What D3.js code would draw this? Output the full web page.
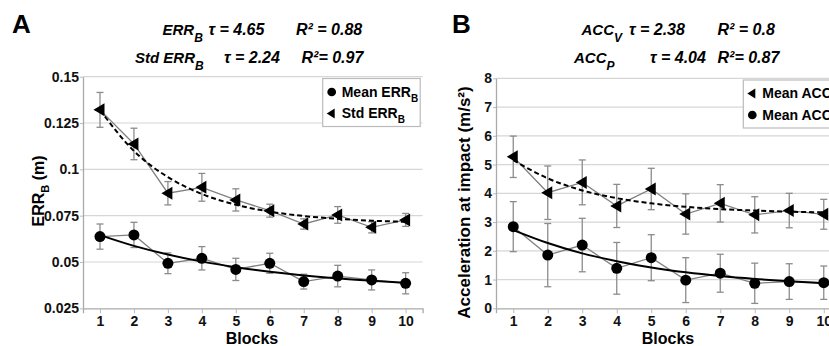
<!DOCTYPE html>
<html>
<head>
<meta charset="utf-8">
<script src="https://cdn.jsdelivr.net/npm/d3@7"></script>
<style>
  body { margin: 0; background: #fff; }
  svg text { font-family: "Liberation Sans", Arial, sans-serif; font-weight: bold; }
</style>
</head>
<body>
<div id="chart"></div>
<script>
const blocks = [1, 2, 3, 4, 5, 6, 7, 8, 9, 10];

// panel A (ERR_B, m)
const errMean    = [0.0637, 0.0646, 0.0493, 0.0520, 0.0460, 0.0493, 0.0394, 0.0424, 0.0403, 0.0385];
const errMeanSd  = [0.0068, 0.0068, 0.0056, 0.0063, 0.0060, 0.0054, 0.0040, 0.0058, 0.0054, 0.0057];
const errMeanFit = [0.0645, 0.0587, 0.0540, 0.0502, 0.0472, 0.0447, 0.0427, 0.0411, 0.0399, 0.0388];
const errStd     = [0.1321, 0.1137, 0.0871, 0.0903, 0.0835, 0.0777, 0.0705, 0.0754, 0.0687, 0.0727];
const errStdSd   = [0.0094, 0.0085, 0.0063, 0.0075, 0.0060, 0.0035, 0.0028, 0.0045, 0.0030, 0.0035];
const errStdFit  = [0.1320, 0.1099, 0.0958, 0.0867, 0.0809, 0.0772, 0.0748, 0.0733, 0.0723, 0.0717];
const yTicksA = [0.025, 0.05, 0.075, 0.1, 0.125, 0.15];
const yTickLabelsA = ['0.025', '0.05', '0.075', '0.1', '0.125', '0.15'];

// panel B (acceleration at impact, m/s²)
const accV    = [5.27, 4.02, 4.38, 3.56, 4.15, 3.28, 3.65, 3.25, 3.40, 3.27];
const accVSd  = [0.72, 0.93, 0.78, 0.75, 0.72, 0.70, 0.65, 0.63, 0.60, 0.52];
const accVFit = [5.15, 4.52, 4.10, 3.83, 3.65, 3.53, 3.45, 3.40, 3.36, 3.34];
const accP    = [2.84, 1.85, 2.20, 1.39, 1.76, 0.98, 1.22, 0.87, 0.93, 0.89];
const accPSd  = [0.87, 1.10, 0.93, 0.90, 0.80, 0.78, 0.66, 0.70, 0.62, 0.58];
const accPFit = [2.72, 2.27, 1.91, 1.64, 1.42, 1.25, 1.12, 1.02, 0.94, 0.87];
const yTicksB = [0, 1, 2, 3, 4, 5, 6, 7, 8];

const width = 829, height = 346;
const svg = d3.select('#chart').append('svg')
  .attr('width', width)
  .attr('height', height);

function drawPanel(p) {
  const x = d3.scaleLinear().domain([0.5, 10.5]).range([p.left, p.right]);
  const y = d3.scaleLinear().domain(p.yDomain).range([308.3, p.top]);
  const g = svg.append('g');

  // grid
  g.selectAll('line.grid')
    .data(p.yTicks.slice(1))
    .enter().append('line')
    .attr('x1', p.left).attr('x2', p.right)
    .attr('y1', d => y(d)).attr('y2', d => y(d))
    .attr('stroke', '#d6d6d6').attr('stroke-width', 1.2);

  // axes
  const xAxis = g.append('g')
    .attr('transform', `translate(0,${y(p.yDomain[0])})`)
    .call(d3.axisBottom(x).tickValues(blocks).tickSize(5).tickPadding(3));
  xAxis.select('.domain').attr('stroke', '#aaa').attr('stroke-width', 1.3);
  xAxis.selectAll('.tick line').attr('stroke', '#bbb');
  xAxis.selectAll('text').style('font-size', '14px').attr('fill', '#111');

  const yAxis = g.append('g')
    .attr('transform', `translate(${p.left},0)`)
    .call(d3.axisLeft(y).tickValues(p.yTicks).tickFormat((d, i) => p.yTickLabels[i]).tickSize(3).tickPadding(1).tickSizeOuter(0));
  yAxis.select('.domain').attr('stroke', '#aaa').attr('stroke-width', 1.3);
  yAxis.selectAll('.tick line').attr('stroke', '#bbb');
  yAxis.selectAll('text').style('font-size', '14px').attr('fill', '#111');

  g.append('text')
    .attr('x', p.blocksX)
    .attr('y', 343.5)
    .attr('text-anchor', 'middle')
    .style('font-size', '16px')
    .text('Blocks');

  const yl = g.append('text')
    .attr('transform', `translate(${p.yLabelX},${p.yLabelY}) rotate(-90)`)
    .attr('text-anchor', 'middle')
    .style('font-size', p.yLabelSize);
  p.yLabel(yl);

  p.series.forEach(s => {
    // data connector
    g.append('path')
      .datum(blocks)
      .attr('fill', 'none')
      .attr('stroke', '#808080')
      .attr('stroke-width', 1.3)
      .attr('d', d3.line().x(d => x(d)).y((d, i) => y(s.values[i])));

    // error bars
    const eb = g.append('g').attr('stroke', '#8c8c8c').attr('stroke-width', 1.3);
    blocks.forEach((b, i) => {
      const lo = y(s.values[i] - s.sd[i]), hi = y(s.values[i] + s.sd[i]);
      eb.append('line').attr('x1', x(b)).attr('x2', x(b)).attr('y1', lo).attr('y2', hi);
      eb.append('line').attr('x1', x(b) - 3.5).attr('x2', x(b) + 3.5).attr('y1', lo).attr('y2', lo);
      eb.append('line').attr('x1', x(b) - 3.5).attr('x2', x(b) + 3.5).attr('y1', hi).attr('y2', hi);
    });
  });

  p.series.forEach(s => {
    // exponential fit
    g.append('path')
      .datum(blocks)
      .attr('fill', 'none')
      .attr('stroke', '#000')
      .attr('stroke-width', 2)
      .attr('stroke-dasharray', s.dashed ? '5,3' : null)
      .attr('d', d3.line().curve(d3.curveMonotoneX).x(d => x(d)).y((d, i) => y(s.fit[i])));
  });

  p.series.forEach(s => {
    g.selectAll(null)
      .data(blocks)
      .enter().append('path')
      .attr('transform', (d, i) => `translate(${x(d)},${y(s.values[i])})`)
      .attr('d', s.marker === 'circle' ? d3.symbol(d3.symbolCircle, 95)() : 'M-6.5,0L4.5,-6.5L4.5,6.5Z')
      .attr('fill', '#000');
  });

  // legend
  const lg = g.append('g');
  lg.append('rect')
    .attr('x', p.legend.x).attr('y', p.legend.y)
    .attr('width', p.legend.w).attr('height', 48)
    .attr('fill', '#fff').attr('stroke', '#bbb').attr('stroke-width', 1.2);
  p.legend.items.forEach((it, i) => {
    const cy = p.legend.y + 13.5 + i * 21.5;
    lg.append('path')
      .attr('transform', `translate(${p.legend.x + 9},${cy})`)
      .attr('d', it.marker === 'circle' ? d3.symbol(d3.symbolCircle, 60)() : 'M-5,0L3,-5L3,5Z')
      .attr('fill', '#000');
    const t = lg.append('text')
      .attr('x', p.legend.x + 19)
      .attr('y', cy + 4.5)
      .style('font-size', '14px');
    t.append('tspan').text(it.label);
    t.append('tspan').attr('dy', 5).style('font-size', '10px').text(it.sub);
  });

  // header
  svg.append('text').attr('x', p.letterX).attr('y', 33).style('font-size', '26px').text(p.letter);
  p.notes.forEach(n => {
    const t = svg.append('text').attr('y', n.y).style('font-size', '16px').style('font-style', 'italic');
    t.append('tspan').attr('x', n.x0).style('font-size', '15px').text(n.name);
    t.append('tspan').attr('dy', 7).style('font-size', '12px').text(n.sub);
    t.append('tspan').attr('x', n.x1).attr('y', n.y).text(n.tau);
    t.append('tspan').attr('x', n.x2).attr('y', n.y).text(n.r2);
  });
}

drawPanel({
  left: 83, right: 422.6, top: 76.7, blocksX: 252,
  yDomain: [0.025, 0.15], yTicks: yTicksA, yTickLabels: yTickLabelsA,
  yLabelX: 43.5, yLabelY: 191, yLabelSize: '16px',
  yLabel: t => {
    t.append('tspan').text('ERR');
    t.append('tspan').attr('dy', 5).style('font-size', '11px').text('B');
    t.append('tspan').attr('dy', -5).text(' (m)');
  },
  series: [
    { values: errMean, sd: errMeanSd, fit: errMeanFit, marker: 'circle', dashed: false },
    { values: errStd, sd: errStdSd, fit: errStdFit, marker: 'triangle', dashed: true }
  ],
  legend: { x: 322.7, y: 78.5, w: 97.5, items: [
    { marker: 'circle', label: 'Mean ERR', sub: 'B' },
    { marker: 'triangle', label: 'Std ERR', sub: 'B' }
  ] },
  letter: 'A', letterX: 12,
  notes: [
    { y: 35, x0: 162.5, name: 'ERR', sub: 'B', x1: 208.5, tau: 'τ =  4.65', x2: 296, r2: 'R² = 0.88' },
    { y: 63, x0: 135, name: 'Std ERR', sub: 'B', x1: 224, tau: 'τ = 2.24', x2: 301.5, r2: 'R²= 0.97' }
  ]
});

drawPanel({
  left: 496, right: 841, top: 78.3, blocksX: 668,
  yDomain: [0, 8], yTicks: yTicksB, yTickLabels: yTicksB.map(String),
  yLabelX: 470, yLabelY: 202.5, yLabelSize: '17px',
  yLabel: t => {
    t.append('tspan').text('Acceleration at impact (m/s²)');
  },
  series: [
    { values: accV, sd: accVSd, fit: accVFit, marker: 'triangle', dashed: true },
    { values: accP, sd: accPSd, fit: accPFit, marker: 'circle', dashed: false }
  ],
  legend: { x: 743.3, y: 80, w: 110, items: [
    { marker: 'triangle', label: 'Mean ACC', sub: 'V' },
    { marker: 'circle', label: 'Mean ACC', sub: 'P' }
  ] },
  letter: 'B', letterX: 452,
  notes: [
    { y: 35, x0: 581.5, name: 'ACC', sub: 'V', x1: 629, tau: 'τ =  2.38', x2: 717.5, r2: 'R² = 0.8' },
    { y: 63, x0: 574, name: 'ACC', sub: 'P', x1: 650, tau: 'τ = 4.04', x2: 717.5, r2: 'R²= 0.87' }
  ]
});
</script>
</body>
</html>
